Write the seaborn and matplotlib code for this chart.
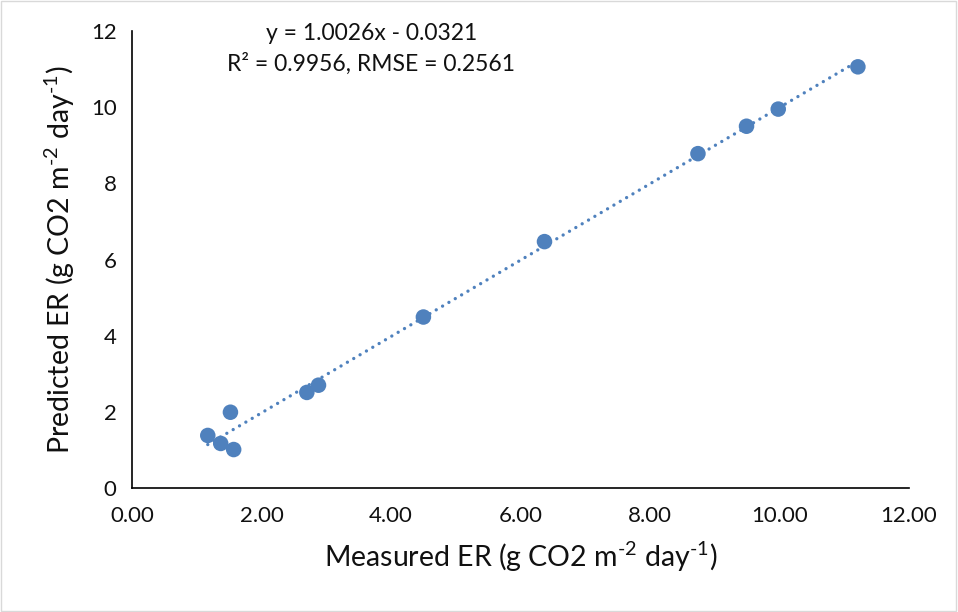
import matplotlib
matplotlib.use("Agg")
import matplotlib.pyplot as plt
from matplotlib.patches import Rectangle
import seaborn as sns
import pandas as pd
import numpy as np

# Data
measured = [1.17, 1.37, 1.52, 1.57, 2.70, 2.88, 4.50, 6.37, 8.74, 9.49, 9.98, 11.21]
predicted = [1.38, 1.17, 1.99, 1.01, 2.51, 2.70, 4.49, 6.47, 8.78, 9.50, 9.95, 11.06]
slope = 1.0026
intercept = -0.0321
eq_text = "y = 1.0026x - 0.0321"
stats_text = "R² = 0.9956, RMSE = 0.2561"
x_ticks = [0, 2, 4, 6, 8, 10, 12]
x_tick_labels = ["0.00", "2.00", "4.00", "6.00", "8.00", "10.00", "12.00"]
y_ticks = [0, 2, 4, 6, 8, 10, 12]
y_tick_labels = ["0", "2", "4", "6", "8", "10", "12"]

sns.set_style("white")
plt.rcParams['font.family'] = ['Lato', 'DejaVu Sans']
plt.rcParams['mathtext.fontset'] = 'custom'
plt.rcParams['mathtext.rm'] = 'Lato'
plt.rcParams['mathtext.it'] = 'Lato:italic'

color = '#4F81BD'
df = pd.DataFrame({"measured": measured, "predicted": predicted})

fig = plt.figure(figsize=(9.58, 6.12), dpi=100)
ax = fig.add_axes([0.1378, 0.2026, 0.8111, 0.7467])

# trendline
xl = np.array([min(measured), max(measured)])
trend = pd.DataFrame({"x": xl, "y": slope * xl + intercept})
sns.lineplot(data=trend, x="x", y="y", ax=ax, color=color, linewidth=2.4,
             linestyle=(0, (0.01, 2.2)), dash_capstyle='round', zorder=2)

sns.scatterplot(data=df, x="measured", y="predicted", ax=ax, color=color,
                s=125, edgecolor='none', linewidth=0, zorder=3)

ax.set_xlim(0, 12)
ax.set_ylim(0, 12)
ax.set_xticks(x_ticks)
ax.set_xticklabels(x_tick_labels)
ax.set_yticks(y_ticks)
ax.set_yticklabels(y_tick_labels)

for s in ['top', 'right']:
    ax.spines[s].set_visible(False)
for s in ['left', 'bottom']:
    ax.spines[s].set_color('black')
    ax.spines[s].set_linewidth(1.2)

ax.tick_params(axis='both', which='major', direction='out', length=5, width=1.2,
               color='black', labelsize=16, labelcolor='#111111')
ax.tick_params(axis='x', pad=8)
ax.tick_params(axis='y', pad=6)

ax.set_xlabel(r"Measured ER (g CO2 m$^{\text{-2}}$ day$^{\text{-1}}$)",
              fontsize=20.5, color='#111111', labelpad=10)
ax.set_ylabel(r"Predicted ER (g CO2 m$^{\text{-2}}$ day$^{\text{-1}}$)",
              fontsize=20.5, color='#111111', labelpad=10)

ax.text(0.308, 0.994, eq_text, transform=ax.transAxes, ha='center', va='center',
        fontsize=16.5, color='#111111')
ax.text(0.308, 0.929, stats_text, transform=ax.transAxes, ha='center', va='center',
        fontsize=16.5, color='#111111')

fig.patches.append(Rectangle((0.001, 0.001), 0.997, 0.997, transform=fig.transFigure,
                             fill=False, edgecolor='#D9D9D9', linewidth=1))

fig.savefig("out.png", dpi=100)
